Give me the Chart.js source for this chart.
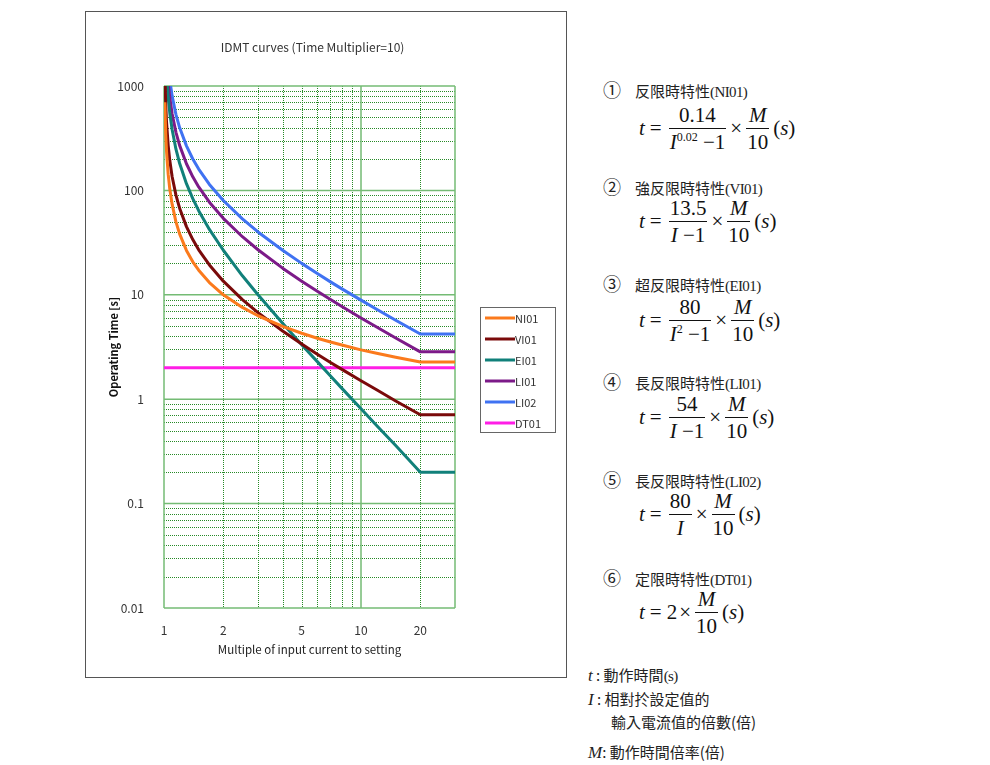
<!DOCTYPE html>
<html>
<head>
<meta charset="utf-8">
<script src="https://cdn.jsdelivr.net/npm/chart.js@4.4.1/dist/chart.umd.min.js"></script>
<style>
body { margin: 0; background: #fff; width: 990px; height: 765px; position: relative; overflow: hidden;
       font-family: "Noto Sans CJK TC", sans-serif; color: #222; }
#box { position: absolute; left: 85px; top: 11px; width: 480px; height: 665px; border: 1px solid #555; }
.head { position: absolute; left: 603px; font-size: 15px; line-height: 18px; white-space: nowrap; }
.cn { display: inline-block; width: 32px; font-size: 18px; font-family: "Noto Sans CJK JP", sans-serif; }
.lat { font-family: "Liberation Serif", serif; font-size: 15px; letter-spacing: -0.6px; }
.fm { position: absolute; left: 639px; height: 54px; display: flex; align-items: center;
      font-family: "Liberation Serif", serif; font-size: 21px; white-space: nowrap; color: #111; }
.frac { display: inline-flex; flex-direction: column; align-items: stretch; margin: 0 2px; text-align: center; }
.nu { border-bottom: 1.4px solid #111; padding: 0 1px 1px; line-height: 24px; }
.de { line-height: 24px; padding: 1px 1px 0; }
.de sup { font-size: 12px; vertical-align: 8px; line-height: 0; }
.op { margin: 0 5px; }
.x { margin: 0 2px; }
.par { margin-left: 2px; }
.note { position: absolute; font-size: 15px; line-height: 18px; white-space: nowrap; }
.note i { font-family: "Liberation Serif", serif; font-size: 17px; }
.note .lat { font-size: 15px; }
</style>
</head>
<body>
<div id="box"><canvas id="chart" width="480" height="665"></canvas></div>

<div class="head" style="top:80px"><span class="cn">①</span>反限時特性<span class="lat">(NI01)</span></div>
<div class="fm" style="top:101px"><i>t</i><span class="op">=</span><span class="frac"><span class="nu">0.14</span><span class="de"><i>I</i><sup>0.02</sup>&nbsp;−1</span></span><span class="x">×</span><span class="frac"><span class="nu"><i>M</i></span><span class="de">10</span></span><span class="par">(<i>s</i>)</span></div>

<div class="head" style="top:177px"><span class="cn">②</span>強反限時特性<span class="lat">(VI01)</span></div>
<div class="fm" style="top:194px"><i>t</i><span class="op">=</span><span class="frac"><span class="nu">13.5</span><span class="de"><i>I</i> −1</span></span><span class="x">×</span><span class="frac"><span class="nu"><i>M</i></span><span class="de">10</span></span><span class="par">(<i>s</i>)</span></div>

<div class="head" style="top:274px"><span class="cn">③</span>超反限時特性<span class="lat">(EI01)</span></div>
<div class="fm" style="top:293px"><i>t</i><span class="op">=</span><span class="frac"><span class="nu">80</span><span class="de"><i>I</i><sup>2</sup>&nbsp;−1</span></span><span class="x">×</span><span class="frac"><span class="nu"><i>M</i></span><span class="de">10</span></span><span class="par">(<i>s</i>)</span></div>

<div class="head" style="top:372px"><span class="cn">④</span>長反限時特性<span class="lat">(LI01)</span></div>
<div class="fm" style="top:390px"><i>t</i><span class="op">=</span><span class="frac"><span class="nu">54</span><span class="de"><i>I</i> −1</span></span><span class="x">×</span><span class="frac"><span class="nu"><i>M</i></span><span class="de">10</span></span><span class="par">(<i>s</i>)</span></div>

<div class="head" style="top:470px"><span class="cn">⑤</span>長反限時特性<span class="lat">(LI02)</span></div>
<div class="fm" style="top:487px"><i>t</i><span class="op">=</span><span class="frac"><span class="nu">80</span><span class="de"><i>I</i></span></span><span class="x">×</span><span class="frac"><span class="nu"><i>M</i></span><span class="de">10</span></span><span class="par">(<i>s</i>)</span></div>

<div class="head" style="top:568px"><span class="cn">⑥</span>定限時特性<span class="lat">(DT01)</span></div>
<div class="fm" style="top:585px"><i>t</i><span class="op">=</span>2<span class="x">×</span><span class="frac"><span class="nu"><i>M</i></span><span class="de">10</span></span><span class="par">(<i>s</i>)</span></div>

<div class="note" style="left:588px;top:666px"><i>t</i> : 動作時間<span class="lat">(s)</span></div>
<div class="note" style="left:588px;top:690px"><i>I</i> : 相對扵設定值的</div>
<div class="note" style="left:611px;top:713px">輸入電流值的倍數(倍)</div>
<div class="note" style="left:588px;top:743px"><i>M</i>: 動作時間倍率(倍)</div>

<script>
"use strict";

// multiple of input current (I) and operating time [s]
let CURRENTS = [1.01, 1.02, 1.03, 1.05, 1.07, 1.1, 1.15, 1.2, 1.3, 1.4, 1.5, 1.7,
                2, 2.5, 3, 4, 5, 6, 7, 8, 10, 12, 15, 20, 30];

let NI01 = [700, 353, 237, 143, 103, 73.4, 50, 38.3, 26.6, 20.7, 17.2, 13.1,
            10.0, 7.57, 6.3, 4.98, 4.28, 3.84, 3.53, 3.3, 2.97, 2.75, 2.52, 2.27, 2.27];
let VI01 = [1350, 675, 450, 270, 193, 135, 90, 67.5, 45, 33.8, 27, 19.3,
            13.5, 9.0, 6.75, 4.5, 3.38, 2.7, 2.25, 1.93, 1.5, 1.23, 0.96, 0.71, 0.71];
let EI01 = [3980, 1980, 1310, 780, 552, 381, 248, 182, 116, 83.3, 64, 42.3,
            26.7, 15.2, 10, 5.33, 3.33, 2.29, 1.67, 1.27, 0.81, 0.56, 0.36, 0.2, 0.2];
let LI01 = [5400, 2700, 1800, 1080, 771, 540, 360, 270, 180, 135, 108, 77.1,
            54, 36, 27, 18, 13.5, 10.8, 9, 7.71, 6, 4.91, 3.86, 2.84, 2.84];
let LI02 = [8000, 4000, 2670, 1600, 1140, 800, 533, 400, 267, 200, 160, 114,
            80, 53.3, 40, 26.7, 20, 16, 13.3, 11.4, 8.9, 7.27, 5.71, 4.21, 4.21];
let DT_CURRENTS = [1, 30];
let DT01 = [2, 2];

let NAMES = ["NI01", "VI01", "EI01", "LI01", "LI02", "DT01"];
let COLORS = ["#fb7a1c", "#7a0a0a", "#11807a", "#7c1a88", "#3f72f2", "#ff1ee6"];

let X_TICKS = [1, 2, 5, 10, 20];
let Y_TICKS = [0.01, 0.1, 1, 10, 100, 1000];
let X_GRID = [1, 2, 3, 4, 5, 6, 7, 8, 9, 10, 20, 30];
let X_MAJOR = [1, 10, 30];

let FONT = "'Noto Sans CJK JP', sans-serif";

function points(xs, ys) {
    return xs.map(function(x, i) { return {x: x, y: ys[i]}; });
}

function line(name, xs, ys) {
    let ix = NAMES.indexOf(name);
    return {
        label: name,
        data: points(xs, ys),
        borderColor: COLORS[ix],
        backgroundColor: COLORS[ix],
        borderWidth: 3,
        pointRadius: 0,
        tension: 0,
        borderJoinStyle: "round"
    };
}

function hline(ctx, area, y) {
    ctx.beginPath();
    ctx.moveTo(area.left, y);
    ctx.lineTo(area.right, y);
    ctx.stroke();
}

function vline(ctx, area, x) {
    ctx.beginPath();
    ctx.moveTo(x, area.top);
    ctx.lineTo(x, area.bottom);
    ctx.stroke();
}

let decor = {
    id: "decor",
    beforeDatasetsDraw: function(chart) {
        let ctx = chart.ctx;
        let area = chart.chartArea;
        let xs = chart.scales.x;
        let ys = chart.scales.y;
        ctx.save();

        // minor grid (dotted)
        ctx.strokeStyle = "#278a27";
        ctx.lineWidth = 1;
        ctx.setLineDash([1, 1]);
        [0.01, 0.1, 1, 10, 100].forEach(function(base) {
            for (let k = 2; k <= 9; ++k) {
                hline(ctx, area, Math.round(ys.getPixelForValue(base * k)) + 0.5);
            }
        });
        X_GRID.forEach(function(v) {
            if (X_MAJOR.indexOf(v) >= 0) return;
            vline(ctx, area, Math.round(xs.getPixelForValue(v)) + 0.5);
        });

        // major grid (solid)
        ctx.setLineDash([]);
        ctx.strokeStyle = "#74bb74";
        ctx.lineWidth = 1.5;
        Y_TICKS.forEach(function(v) {
            hline(ctx, area, ys.getPixelForValue(v));
        });
        X_MAJOR.forEach(function(v) {
            vline(ctx, area, xs.getPixelForValue(v));
        });
        ctx.restore();
    },
    afterDraw: function(chart) {
        let ctx = chart.ctx;
        let area = chart.chartArea;
        ctx.save();

        // title
        ctx.fillStyle = "#333";
        ctx.font = "12px " + FONT;
        ctx.textAlign = "center";
        ctx.textBaseline = "middle";
        ctx.fillText("IDMT curves (Time Multiplier=10)", (area.left + area.right) / 2 + 3, 35);

        // legend box
        let bx = area.right + 25, by = 295, bw = 75, bh = 125;
        ctx.strokeStyle = "#666";
        ctx.lineWidth = 1;
        ctx.strokeRect(bx + 0.5, by + 0.5, bw, bh);
        ctx.font = "11px " + FONT;
        ctx.textAlign = "left";
        chart.data.datasets.forEach(function(ds, i) {
            let y = by + 11 + i * 21;
            ctx.strokeStyle = ds.borderColor;
            ctx.lineWidth = 3;
            ctx.beginPath();
            ctx.moveTo(bx + 5, y);
            ctx.lineTo(bx + 35, y);
            ctx.stroke();
            ctx.fillStyle = "#333";
            ctx.fillText(ds.label, bx + 35, y + 1);
        });
        ctx.restore();
    }
};

let chart = new Chart(document.getElementById("chart"), {
    type: "line",
    data: {
        datasets: [
            line("NI01", CURRENTS, NI01),
            line("VI01", CURRENTS, VI01),
            line("EI01", CURRENTS, EI01),
            line("LI01", CURRENTS, LI01),
            line("LI02", CURRENTS, LI02),
            line("DT01", DT_CURRENTS, DT01)
        ]
    },
    options: {
        responsive: false,
        animation: false,
        layout: { padding: { left: 0, right: 111, top: 74, bottom: 0 } },
        plugins: {
            legend: { display: false },
            title: { display: false },
            tooltip: { enabled: false }
        },
        scales: {
            x: {
                type: "logarithmic",
                min: 1,
                max: 30,
                grid: { display: false },
                border: { display: false },
                afterBuildTicks: function(scale) {
                    scale.ticks = X_TICKS.map(function(v) { return {value: v}; });
                },
                afterFit: function(scale) { scale.height = 69; },
                ticks: {
                    autoSkip: false,
                    maxRotation: 0,
                    padding: 7,
                    color: "#333",
                    font: { family: FONT, size: 12 },
                    callback: function(v) { return String(v); }
                },
                title: {
                    display: true,
                    text: "Multiple of input current to setting",
                    color: "#222",
                    font: { family: FONT, size: 11.5 },
                    padding: { top: 0, bottom: 20 }
                }
            },
            y: {
                type: "logarithmic",
                min: 0.01,
                max: 1000,
                grid: { display: false },
                border: { display: false },
                afterBuildTicks: function(scale) {
                    scale.ticks = Y_TICKS.map(function(v) { return {value: v}; });
                },
                afterFit: function(scale) { scale.width = 78; },
                ticks: {
                    autoSkip: false,
                    padding: 12,
                    color: "#333",
                    font: { family: FONT, size: 12 },
                    callback: function(v) { return String(v); }
                },
                title: {
                    display: true,
                    text: "Operating Time [s]",
                    color: "#111",
                    font: { family: FONT, size: 11, weight: "bold" },
                    padding: { top: 21, bottom: 0 }
                }
            }
        }
    },
    plugins: [decor]
});
</script>
</body>
</html>
